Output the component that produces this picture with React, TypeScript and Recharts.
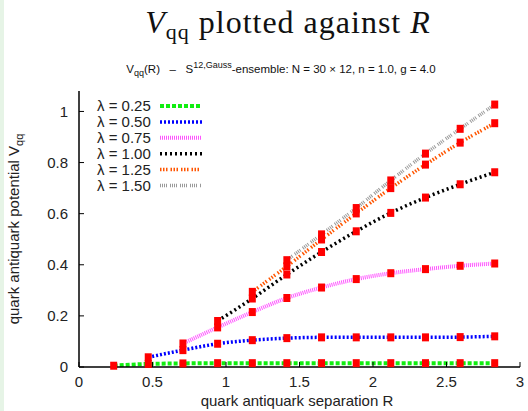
import React from "react";
import { LineChart, Line, XAxis, YAxis } from "recharts";

const R = [0.236, 0.471, 0.707, 0.943, 1.179, 1.414, 1.65, 1.886, 2.121, 2.357, 2.593, 2.828];
const v025 = [0.005, 0.012, 0.014, 0.015, 0.015, 0.015, 0.015, 0.015, 0.015, 0.015, 0.015, 0.015];
const v050 = [null, 0.038, 0.066, 0.091, 0.105, 0.113, 0.116, 0.116, 0.116, 0.116, 0.117, 0.12];
const v075 = [null, null, 0.092, 0.155, 0.215, 0.27, 0.311, 0.344, 0.367, 0.383, 0.396, 0.405];
const v100 = [null, null, null, 0.18, 0.268, 0.362, 0.45, 0.531, 0.603, 0.663, 0.715, 0.762];
const v125 = [null, null, null, null, 0.294, 0.394, 0.499, 0.601, 0.7, 0.792, 0.878, 0.954];
const v150 = [null, null, null, null, null, 0.418, 0.519, 0.622, 0.73, 0.835, 0.932, 1.027];

const lambdaLabels = ["λ = 0.25", "λ = 0.50", "λ = 0.75", "λ = 1.00", "λ = 1.25", "λ = 1.50"];
const seriesKeys = ["l025", "l050", "l075", "l100", "l125", "l150"];
const seriesValues = [v025, v050, v075, v100, v125, v150];
const xTicks = [0, 0.5, 1, 1.5, 2, 2.5, 3];
const yTicks = [0, 0.2, 0.4, 0.6, 0.8, 1];

const styles = [
  { color: "#11ee11", width: 4, dash: "4 2" },
  { color: "#0000ff", width: 3.5, dash: "2 2" },
  { color: "#ff55ff", width: 4, dash: "1 1" },
  { color: "#000000", width: 3.5, dash: "2 3" },
  { color: "#ff5500", width: 3.5, dash: "1.5 1.5 1.5 1.5 1.5 3" },
  { color: "#999999", width: 3.5, dash: "1 1 1 1 1 1 1 3" },
];

const data = R.map((r, i) => {
  const row: any = { R: r };
  seriesKeys.forEach((k, j) => {
    row[k] = seriesValues[j][i];
  });
  return row;
});

const FONT = "'Liberation Sans', Arial, sans-serif";

const RedDot = (props: any) => {
  const { cx, cy, value } = props;
  if (value == null || cx == null || cy == null) return null;
  return <rect x={cx - 3.5} y={cy - 4} width={7} height={8} fill="#ff0000" />;
};

export default function App() {
  return (
    <div style={{ position: "absolute", left: 0, top: 0, width: 528, height: 411, background: "#fff" }}>
      <div style={{ position: "absolute", left: 0, top: 0, width: 4, height: 411, background: "#e6f4e6" }} />
      <LineChart
        width={528}
        height={411}
        data={data}
        margin={{ top: 91, right: 8, bottom: 14, left: 19 }}
        style={{ position: "absolute", left: 0, top: 0 }}
      >
        <XAxis
          dataKey="R"
          type="number"
          domain={[0, 3]}
          ticks={xTicks}
          height={30}
          tickSize={-5}
          tickMargin={14}
          stroke="#000"
          axisLine={{ stroke: "#000", strokeWidth: 1.5 }}
          tickLine={{ stroke: "#000" }}
          tick={{ fill: "#222", fontSize: 15, fontFamily: FONT }}
          tickFormatter={(v: number) => String(v)}
        />
        <XAxis
          xAxisId="top"
          orientation="top"
          dataKey="R"
          type="number"
          domain={[0, 3]}
          ticks={xTicks}
          height={0}
          tickSize={-5}
          tick={false}
          axisLine={{ stroke: "#000", strokeWidth: 1.5 }}
          tickLine={{ stroke: "#000" }}
        />
        <YAxis
          type="number"
          domain={[0, 1.08]}
          ticks={yTicks}
          width={60}
          tickSize={-5}
          tickMargin={16}
          axisLine={{ stroke: "#000", strokeWidth: 1.5 }}
          tickLine={{ stroke: "#000" }}
          tick={{ fill: "#222", fontSize: 15, fontFamily: FONT }}
          tickFormatter={(v: number) => String(Math.round(v * 10) / 10)}
        />
        <YAxis
          yAxisId="right"
          orientation="right"
          type="number"
          domain={[0, 1.08]}
          ticks={yTicks}
          width={0}
          tickSize={-5}
          tick={false}
          axisLine={{ stroke: "#000", strokeWidth: 1.5 }}
          tickLine={{ stroke: "#000" }}
        />
        {seriesKeys.map((k, j) => (
          <Line
            key={k}
            dataKey={k}
            type="monotone"
            stroke={styles[j].color}
            strokeWidth={styles[j].width}
            strokeDasharray={styles[j].dash}
            dot={<RedDot />}
            activeDot={false}
            isAnimationActive={false}
            connectNulls={false}
          />
        ))}
      </LineChart>
      <svg
        width={528}
        height={411}
        style={{ position: "absolute", left: 0, top: 0, pointerEvents: "none" }}
      >
        <text x={288} y={33} textAnchor="middle" fontFamily="'Liberation Serif', 'Times New Roman', serif" fontSize={32} fill="#111" letterSpacing={1}>
          <tspan fontStyle="italic">V</tspan>
          <tspan fontSize={22} dy={6}>qq</tspan>
          <tspan dy={-6}> plotted against </tspan>
          <tspan fontStyle="italic">R</tspan>
        </text>
        <text x={281} y={73} textAnchor="middle" fontFamily={FONT} fontSize={11.5} fill="#111" style={{ whiteSpace: "pre" }}>
          <tspan>V</tspan>
          <tspan fontSize={9} dy={3}>qq</tspan>
          <tspan dy={-3}>{"(R)   –   S"}</tspan>
          <tspan fontSize={9} dy={-5}>12,Gauss</tspan>
          <tspan dy={5}>-ensemble: N = 30 × 12, n = 1.0, g = 4.0</tspan>
        </text>
        <text x={297} y={406} textAnchor="middle" fontFamily={FONT} fontSize={15} fill="#222">
          quark antiquark separation R
        </text>
        <text transform="translate(19,229) rotate(-90)" textAnchor="middle" fontFamily={FONT} fontSize={15} fill="#222">
          <tspan>quark antiquark potential V</tspan>
          <tspan fontSize={11} dy={4}>qq</tspan>
        </text>
        {lambdaLabels.map((lab, j) => {
          const y = 106 + j * 15.9;
          return (
            <g key={lab}>
              <text x={97} y={y + 5} fontFamily={FONT} fontSize={15} fill="#222">
                {lab}
              </text>
              <line
                x1={160}
                x2={202}
                y1={y}
                y2={y}
                stroke={styles[j].color}
                strokeWidth={styles[j].width}
                strokeDasharray={styles[j].dash}
              />
            </g>
          );
        })}
      </svg>
    </div>
  );
}
